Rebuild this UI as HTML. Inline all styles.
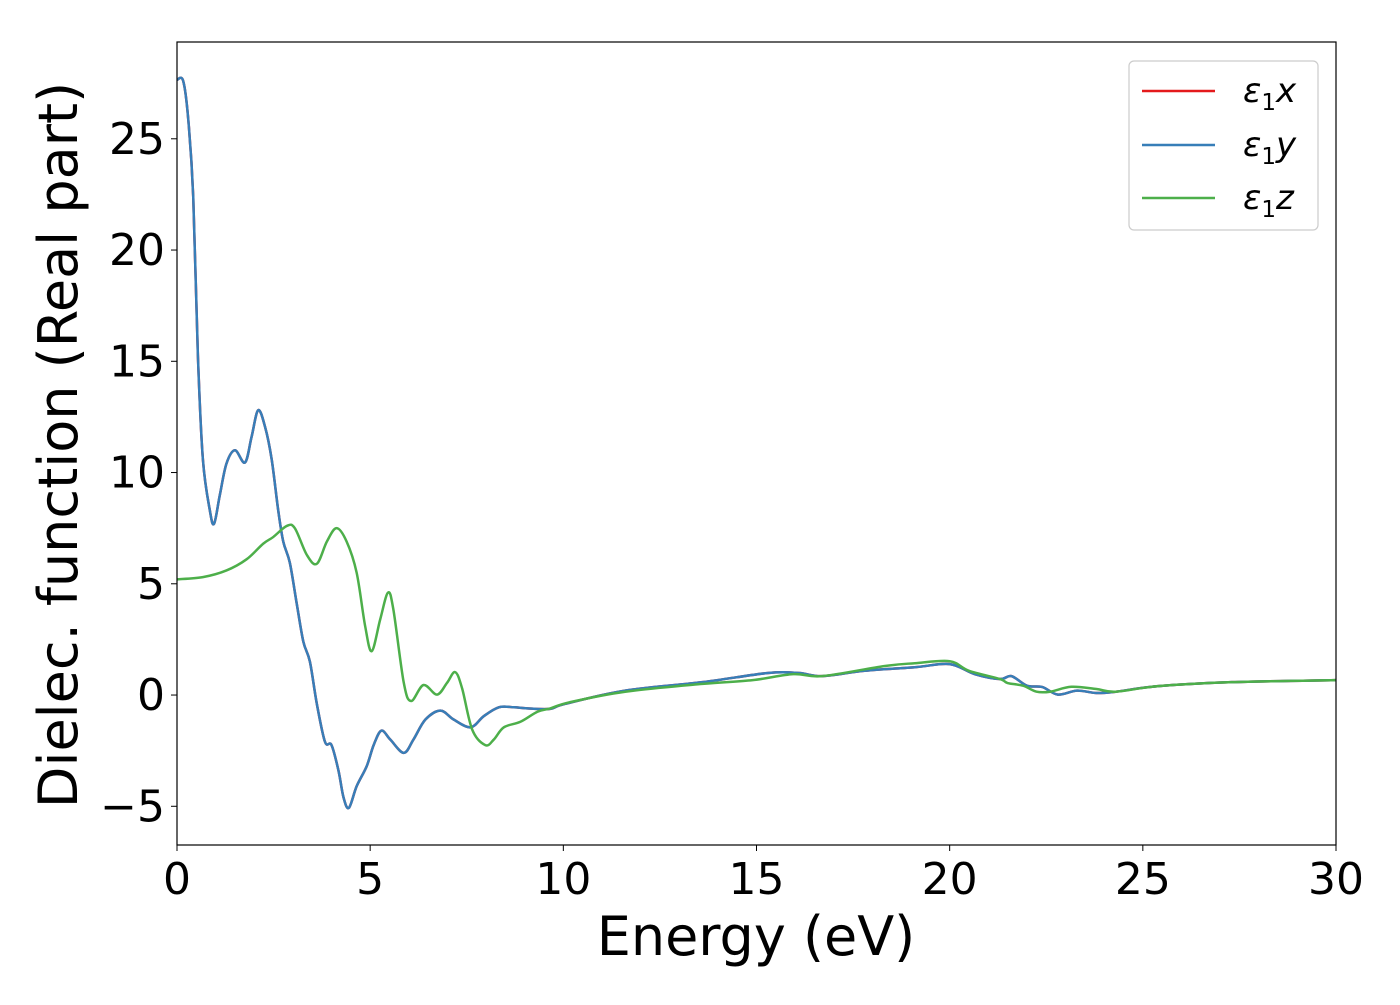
<!DOCTYPE html>
<html><head><meta charset="utf-8"><style>
body{margin:0;background:#fff;}
svg text{font-family:"DejaVu Sans","Liberation Sans",sans-serif;}
</style></head><body>
<svg id="chart" width="1400" height="1000" viewBox="0 0 1400 1000" xmlns="http://www.w3.org/2000/svg">
<rect width="1400" height="1000" fill="#fff"/>
<g id="plot"></g>
<g id="axes"></g>
<rect x="177" y="42" width="1159" height="803" fill="none" stroke="#000" stroke-width="1.2"/>
<text x="756" y="955" font-size="54" text-anchor="middle">Energy (eV)</text>
<text transform="translate(77,445) rotate(-90)" font-size="54" text-anchor="middle">Dielec. function (Real part)</text>
<g>
<rect x="1129" y="61" width="189" height="169" rx="5" fill="#fff" stroke="#ccc" stroke-width="1.2"/>
<line x1="1142" y1="91" x2="1215" y2="91" stroke="#e41a1c" stroke-width="2.5"/>
<text x="1243" y="102" font-size="34" font-style="italic">ε<tspan font-style="normal" font-size="23" dy="8">1</tspan><tspan dy="-8">x</tspan></text>
<line x1="1142" y1="145" x2="1215" y2="145" stroke="#377eb8" stroke-width="2.5"/>
<text x="1243" y="156" font-size="34" font-style="italic">ε<tspan font-style="normal" font-size="23" dy="8">1</tspan><tspan dy="-8">y</tspan></text>
<line x1="1142" y1="198" x2="1215" y2="198" stroke="#4daf4a" stroke-width="2.5"/>
<text x="1243" y="209" font-size="34" font-style="italic">ε<tspan font-style="normal" font-size="23" dy="8">1</tspan><tspan dy="-8">z</tspan></text>
</g>
</svg>
<script>
const xyE = [0,0.16,0.29,0.42,0.54,0.67,0.85,0.96,1.11,1.28,1.5,1.76,1.93,2.1,2.28,2.45,2.62,2.75,2.92,3.1,3.27,3.44,3.62,3.83,4.0,4.18,4.31,4.45,4.65,4.91,5.09,5.29,5.52,5.87,6.12,6.43,6.82,7.16,7.6,7.94,8.33,8.72,9.07,9.66,10.04,11.6,13.6,15.3,16.1,16.7,17.8,19.1,20.0,20.65,21.3,21.6,22.0,22.4,22.8,23.3,23.8,24.3,25.4,27.3,30];
const xyV = [27.65,27.6,25.9,22.4,15.3,10.6,8.3,7.7,9.0,10.4,11.0,10.45,11.6,12.8,12.05,10.6,8.3,6.9,5.95,4.1,2.4,1.5,-0.4,-2.1,-2.25,-3.4,-4.6,-5.07,-4.1,-3.2,-2.25,-1.6,-2.0,-2.6,-2.0,-1.1,-0.7,-1.1,-1.45,-0.95,-0.55,-0.55,-0.6,-0.62,-0.4,0.2,0.58,0.99,0.99,0.85,1.09,1.25,1.39,0.94,0.72,0.85,0.42,0.36,0.02,0.2,0.09,0.15,0.4,0.58,0.67];
const zE = [0,0.67,1.28,1.8,2.23,2.49,2.84,3.05,3.36,3.62,3.88,4.13,4.39,4.65,4.87,5.04,5.26,5.46,5.6,5.87,6.06,6.38,6.73,6.99,7.2,7.38,7.64,7.98,8.2,8.46,8.89,9.33,9.66,10.17,11.6,13.6,14.9,15.95,16.7,18.3,19.1,20.0,20.5,21.3,21.5,21.9,22.25,22.6,23.15,23.8,24.3,25.4,27.3,30];
const zV = [5.2,5.3,5.6,6.1,6.8,7.1,7.6,7.5,6.3,5.9,6.9,7.5,6.9,5.5,3.1,1.97,3.4,4.6,3.85,0.55,-0.27,0.45,0.02,0.55,1.03,0.3,-1.55,-2.25,-2.0,-1.45,-1.2,-0.75,-0.6,-0.32,0.15,0.5,0.67,0.94,0.85,1.3,1.43,1.52,1.09,0.72,0.54,0.42,0.15,0.15,0.37,0.27,0.15,0.4,0.58,0.67];
const xTicks = [0,5,10,15,20,25,30];
const yTicks = [-5,0,5,10,15,20,25];
const yTickLabels = ["\u22125","0","5","10","15","20","25"];
const NS="http://www.w3.org/2000/svg";
const X0=177,X1=1336,Y0=42,Y1=845,XMIN=0,XMAX=30,YMIN=-6.74,YMAX=29.35;
function sx(v){return X0+(v-XMIN)/(XMAX-XMIN)*(X1-X0);}
function sy(v){return Y1-(v-YMIN)/(YMAX-YMIN)*(Y1-Y0);}
function pathFrom(es,vs){
  const p=es.map((e,i)=>[sx(e),sy(vs[i])]);
  let d="M"+p[0][0].toFixed(2)+","+p[0][1].toFixed(2);
  for(let i=0;i<p.length-1;i++){
    const a=p[Math.max(0,i-1)],b=p[i],c=p[i+1],n=p[Math.min(p.length-1,i+2)];
    const c1=[b[0]+(c[0]-a[0])/6,b[1]+(c[1]-a[1])/6],c2=[c[0]-(n[0]-b[0])/6,c[1]-(n[1]-b[1])/6];
    d+=" C"+c1.map(v=>v.toFixed(2))+" "+c2.map(v=>v.toFixed(2))+" "+c[0].toFixed(2)+","+c[1].toFixed(2);
  }
  return d;
}
const plot=document.getElementById('plot');
[["series-eps1x",xyE,xyV,"#e41a1c"],["series-eps1y",xyE,xyV,"#377eb8"],["series-eps1z",zE,zV,"#4daf4a"]].forEach(s=>{
  const el=document.createElementNS(NS,'path');
  
  
  el.setAttribute('d',pathFrom(s[1],s[2]));
  el.setAttribute('fill','none');el.setAttribute('stroke',s[3]);el.setAttribute('stroke-width','2.5');
  plot.appendChild(el);
});
const axes=document.getElementById('axes');
xTicks.forEach(t=>{
  const l=document.createElementNS(NS,'line');
  
  
  l.setAttribute('x1',sx(t));l.setAttribute('x2',sx(t));l.setAttribute('y1',Y1);l.setAttribute('y2',Y1+6);l.setAttribute('stroke','#000');
  axes.appendChild(l);
  const tx=document.createElementNS(NS,'text');
  
  
  tx.setAttribute('x',sx(t));tx.setAttribute('y',Y1+49);tx.setAttribute('font-size','44');tx.setAttribute('text-anchor','middle');
  tx.textContent=String(t);axes.appendChild(tx);
});
yTicks.forEach((t,i)=>{
  const l=document.createElementNS(NS,'line');
  
  
  l.setAttribute('x1',X0-6);l.setAttribute('x2',X0);l.setAttribute('y1',sy(t));l.setAttribute('y2',sy(t));l.setAttribute('stroke','#000');
  axes.appendChild(l);
  const tx=document.createElementNS(NS,'text');
  
  
  tx.setAttribute('x',X0-12);tx.setAttribute('y',sy(t)+15);tx.setAttribute('font-size','44');tx.setAttribute('text-anchor','end');
  tx.textContent=yTickLabels[i];axes.appendChild(tx);
});
</script>
</body></html>
